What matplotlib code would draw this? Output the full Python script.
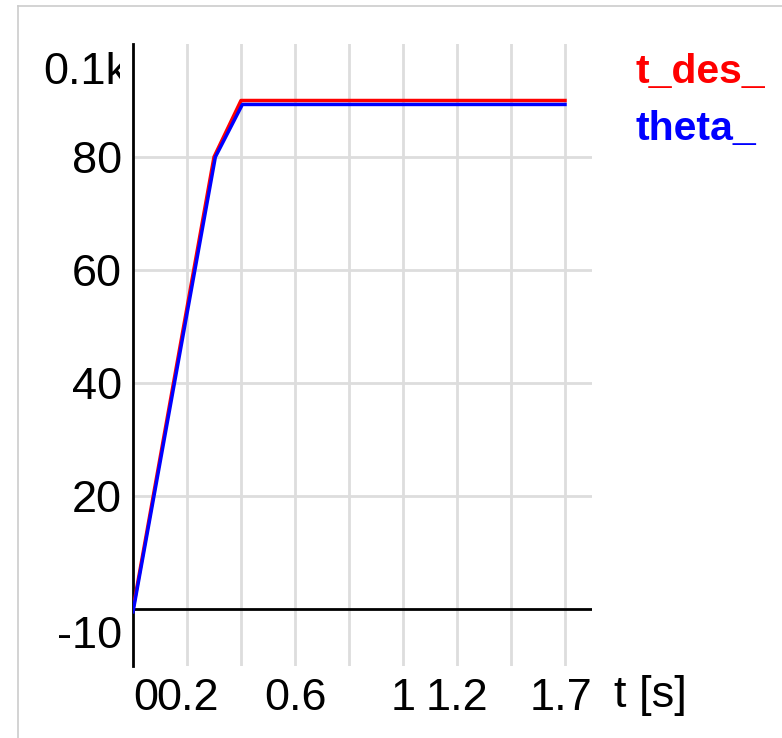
import matplotlib
matplotlib.use("Agg")
import matplotlib.pyplot as plt
from matplotlib.lines import Line2D
from matplotlib.transforms import Bbox, ScaledTranslation

plt.rcParams['font.family'] = ['Liberation Sans', 'DejaVu Sans']

# data
t_des_time = [0.0, 0.30, 0.40, 1.60]
t_des_vals = [0.0, 80.0, 90.0, 90.0]
theta_time = [0.0, 0.305, 0.405, 1.60]
theta_vals = [-0.5, 80.0, 89.3, 89.3]

x_ticks = [0, 0.2, 0.6, 1.0, 1.2, 1.7]
x_tick_labels = ['0', '0.2', '0.6', '1', '1.2', '1.7']
x_grid = [0.2, 0.4, 0.6, 0.8, 1.0, 1.2, 1.4, 1.6]
y_ticks = [-10, 20, 40, 60, 80, 100]
y_tick_labels = ['-10', '20', '40', '60', '80', '0.1k']
y_grid = [20, 40, 60, 80]

W, H = 782, 738
fig = plt.figure(figsize=(W / 100, H / 100), dpi=100)
ax = fig.add_axes([133 / W, (H - 665.5) / H, 459 / W, 621.5 / H])
ax.set_xlim(0, 1.7)
ax.set_ylim(-10, 100)
ax.xaxis.remove_overlapping_locs = False
ax.yaxis.remove_overlapping_locs = False

for s in ['top', 'right', 'bottom']:
    ax.spines[s].set_visible(False)
ax.spines['left'].set_linewidth(2)
ax.spines['left'].set_color('black')

ax.set_xticks(x_ticks)
ax.set_xticklabels(x_tick_labels)
ax.set_xticks(x_grid, minor=True)
ax.set_yticks(y_ticks)
ax.set_yticklabels(y_tick_labels)
ax.set_yticks(y_grid, minor=True)
ax.tick_params(which='both', length=0)
ax.tick_params(axis='x', which='major', labelsize=32.5, pad=9)
ax.tick_params(axis='y', which='major', labelsize=32.5, pad=8)
ax.grid(False, which='major')
ax.grid(True, which='minor', color='#dddddd', linewidth=2)
ax.set_axisbelow(True)

ax.axhline(0, color='black', linewidth=2, zorder=1.5)

ax.plot(t_des_time, t_des_vals, color='#ff0000', linewidth=2.5, zorder=3)
ax.plot(theta_time, theta_vals, color='#0000ff', linewidth=2.5, zorder=3)

fig.canvas.draw()
# edge tick labels shifted inward
xl = ax.get_xticklabels()
xl[0].set_ha('left')
xl[-1].set_ha('right')
yl = ax.get_yticklabels()
yl[0].set_va('bottom')
yl[0].set_transform(yl[0].get_transform() + ScaledTranslation(0, 9 / 100, fig.dpi_scale_trans))
yl[-1].set_va('top')
yl[-1].set_transform(yl[-1].get_transform() + ScaledTranslation(6 / 100, -8 / 100, fig.dpi_scale_trans))
yl[-1].set_clip_box(Bbox.from_extents(0, 0, 120, H))
yl[-1].set_clip_on(True)

ax.text(1.0, 0, 't [s]', transform=ax.transAxes + ScaledTranslation(22 / 100, -10 / 100, fig.dpi_scale_trans),
        ha='left', va='top', fontsize=32.5)

fig.text(636 / W, (H - 83) / H, 't_des_', color='#ff0000', fontsize=29.5, fontweight='bold', ha='left', va='baseline')
fig.text(636 / W, (H - 140) / H, 'theta_', color='#0000ff', fontsize=29.5, fontweight='bold', ha='left', va='baseline')

fig.add_artist(Line2D([17.5 / W, 17.5 / W], [0, (H - 5.5) / H], transform=fig.transFigure, color='#cccccc', linewidth=1.2))
fig.add_artist(Line2D([17.5 / W, 1], [(H - 5.5) / H, (H - 5.5) / H], transform=fig.transFigure, color='#cccccc', linewidth=1.2))

fig.savefig('out.png', dpi=100)
